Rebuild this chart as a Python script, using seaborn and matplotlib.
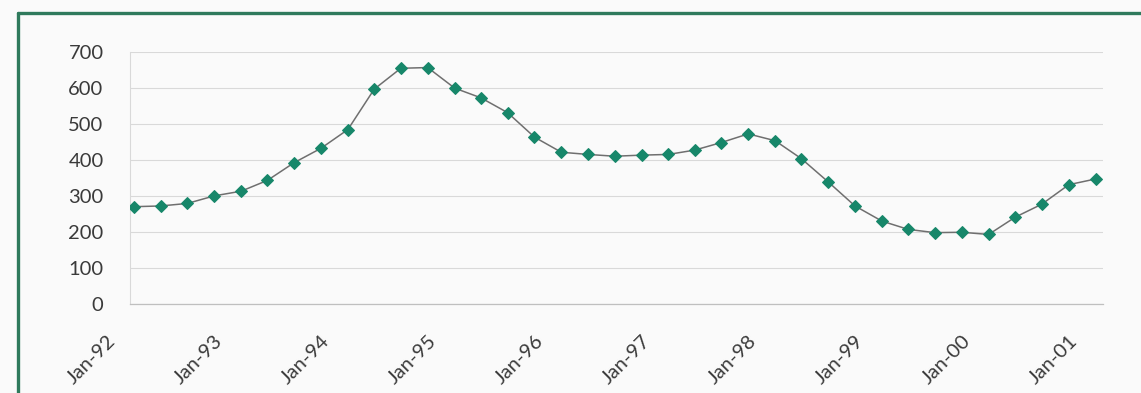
import numpy as np
import pandas as pd
import seaborn as sns
import matplotlib.pyplot as plt
from matplotlib.lines import Line2D
from matplotlib.transforms import ScaledTranslation

# quarterly observations, Jan-92 .. Jan-01 (plotted mid-month like Excel's date axis)
quarters = pd.date_range("1992-01-01", "2001-01-01", freq="QS") + pd.Timedelta(days=14)
values = [270, 272, 279, 300, 313, 343, 392, 432, 484, 596,
          654, 656, 599, 572, 531, 463, 421, 415, 410, 413,
          415, 427, 448, 472, 453, 403, 339, 272, 230, 207,
          198, 199, 193, 241, 277, 331, 347]

year_ticks = pd.date_range("1992-01-01", "2001-01-01", freq="YS")
year_labels = ["Jan-92", "Jan-93", "Jan-94", "Jan-95", "Jan-96",
               "Jan-97", "Jan-98", "Jan-99", "Jan-00", "Jan-01"]
y_ticks = [0, 100, 200, 300, 400, 500, 600, 700]

df = pd.DataFrame({"date": quarters, "value": values})

sns.set_style("white")
plt.rcParams["font.family"] = ["Lato", "DejaVu Sans"]

bg = "#fafafa"
fig = plt.figure(figsize=(11.41, 3.93), dpi=100, facecolor=bg)
ax = fig.add_axes([130 / 1141, 1 - 304 / 393, (1103 - 130) / 1141, (304 - 51.7) / 393])
ax.set_facecolor(bg)

sns.lineplot(data=df, x="date", y="value", ax=ax, color="#6f6f6f", lw=1.1,
             marker="D", markersize=6.5, markerfacecolor="#17876a",
             markeredgecolor="#17876a", zorder=3)

ax.set_xlim(pd.Timestamp("1992-01-01"), pd.Timestamp("2001-02-09"))
ax.set_ylim(0, 700)
ax.set_yticks(y_ticks)
ax.set_xticks(year_ticks)
ax.set_xticklabels(year_labels, rotation=45, ha="right", va="center",
                   rotation_mode="anchor")
ax.set_xlabel("")
ax.set_ylabel("")

ax.grid(axis="y", color="#d9d9d9", lw=0.8)
ax.grid(axis="x", visible=False)
for s in ["top", "right"]:
    ax.spines[s].set_visible(False)
ax.spines["left"].set_color("#d9d9d9")
ax.spines["left"].set_linewidth(0.8)
ax.spines["bottom"].set_color("#bfbfbf")
ax.spines["bottom"].set_linewidth(0.9)

ax.tick_params(axis="y", length=12, width=0.8, color="#d9d9d9", pad=7,
               labelsize=14.5, labelcolor="#3a3a3a")
ax.tick_params(axis="x", length=6, width=0.9, color="#bfbfbf", pad=4,
               labelsize=14.5, labelcolor="#3a3a3a")

shift = ScaledTranslation(-0.17, -0.2, fig.dpi_scale_trans)
for lab in ax.get_xticklabels():
    lab.set_transform(lab.get_transform() + shift)

# green frame around the chart
frame = "#2f7a5c"
top_y = 1 - 12.5 / 393
left_x = 18 / 1141
fig.add_artist(Line2D([left_x, 1.0], [top_y, top_y], color=frame, lw=2.4,
                      transform=fig.transFigure))
fig.add_artist(Line2D([left_x, left_x], [0, top_y], color=frame, lw=2.4,
                      transform=fig.transFigure))

fig.savefig("out.png", dpi=100, facecolor=bg)
